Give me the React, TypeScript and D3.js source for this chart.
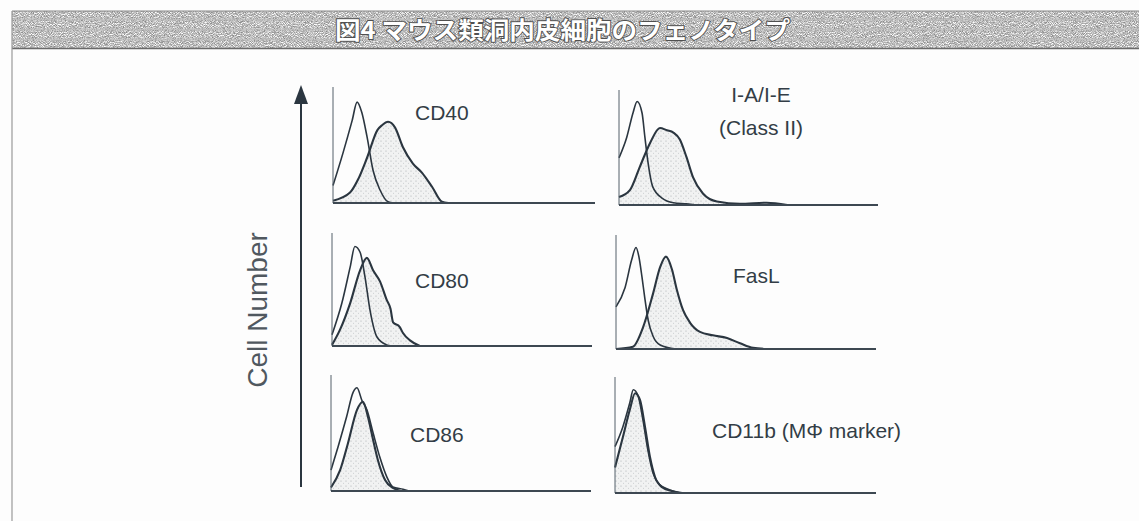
// App.tsx
import React from "react";
import * as d3 from "d3";

// 各パネルの名前（ラベル）
const panelLabels: string[][] = [
  ["CD40"],
  ["I-A/I-E", "(Class II)"],
  ["CD80"],
  ["FasL"],
  ["CD86"],
  ["CD11b (MΦ  marker)"],
];

// ヒストグラムのデータ: [蛍光チャネル(0-100), 細胞数(0-100)]
// control = アイソタイプ（線のみ）, stained = 抗体染色（塗りつぶし）
const cd40Control = [[0, 15], [3.8, 43], [7.3, 71], [9.2, 87], [11, 78], [13, 57], [15.3, 28], [18, 11], [21, 1], [23, 0]];
const cd40Stained = [[0, 2], [6.5, 9], [9.5, 20], [13, 39], [17, 63], [18.7, 67], [21, 70], [23.7, 65], [26.7, 48], [30.5, 34], [34, 26], [37.8, 14], [41.6, 1], [44, 0]];

const iaeControl = [[0, 41], [3, 59], [5.4, 80], [7, 90], [8.9, 80], [10, 59], [11.2, 37], [13, 16], [16.6, 6], [21, 2], [26, 1], [30, 0]];
const iaeStained = [[0, 7], [4.2, 13], [8, 33], [12, 54], [15.8, 67], [18.5, 65], [21, 63], [23.5, 57], [26, 42], [28.6, 24], [32.4, 10], [37.8, 3], [46.7, 1], [57, 2], [65, 0]];

const cd80Control = [[0, 10], [3.8, 38], [7, 70], [8.8, 88], [10.8, 83], [12.7, 61], [14.6, 32], [17.3, 8], [21, 1], [23, 0]];
const cd80Stained = [[0, 1], [3, 14], [7, 38], [10.8, 67], [13.4, 78], [15.8, 67], [18.5, 57], [21, 41], [22.5, 33], [23.5, 21], [26, 17], [27.3, 11.5], [30, 5], [33.8, 0]];

const faslControl = [[0, 37], [3.5, 54], [6, 78], [7.7, 89], [8.8, 81], [10, 63], [11, 46], [12.4, 25], [14.3, 11], [17, 3.5], [23, 0]];
const faslStained = [[0, 0], [6.5, 2], [10.4, 19], [14.3, 49], [17, 72], [19.2, 81], [21.5, 70], [23.4, 52], [25.8, 34], [28.5, 23], [32.3, 15], [37.3, 12], [42.7, 9.6], [47.7, 5], [52.7, 1], [58, 0]];

const cd86Control = [[0, 18], [2.7, 38], [6, 64], [8.5, 85], [10, 89], [11.9, 78], [13.8, 70], [16.2, 50], [18.8, 29], [21.5, 12], [23.8, 3.5], [27.7, 1.5], [30, 0]];
const cd86Stained = [[0, 3], [3.5, 18], [6.5, 41], [10, 70], [12.3, 77], [14.2, 64], [16.2, 44], [18, 27], [20.8, 9.5], [23.8, 2.6], [27, 0]];

const cd11bControl = [[0, 40], [3, 57], [5.7, 78], [7, 89], [8.8, 84], [10.7, 63], [12.6, 37], [14.6, 17], [17.2, 7], [21, 2.6], [25, 0]];
const cd11bStained = [[0, 22], [3, 48], [5.7, 72], [7.7, 86], [9.6, 80], [11.5, 57], [13.4, 31], [15.3, 14], [18, 5], [21.8, 1.7], [25.7, 0]];

const controls = [cd40Control, iaeControl, cd80Control, faslControl, cd86Control, cd11bControl];
const stained = [cd40Stained, iaeStained, cd80Stained, faslStained, cd86Stained, cd11bStained];

const titleText = "図4 マウス類洞内皮細胞のフェノタイプ";
const yAxisTitle = "Cell Number";

// パネル位置（ピクセル）: x0, 基線, 幅, 高さ, ラベル位置
const layout = [
  { x: 333, base: 203, w: 262, h: 116, lx: 415, ly: [120], anchor: "start" },
  { x: 619, base: 205, w: 259, h: 115, lx: 761, ly: [102, 135], anchor: "middle" },
  { x: 332, base: 346, w: 260, h: 113, lx: 415, ly: [288], anchor: "start" },
  { x: 616, base: 349, w: 260, h: 114, lx: 733, ly: [283], anchor: "start" },
  { x: 331, base: 491, w: 260, h: 116, lx: 410, ly: [442], anchor: "start" },
  { x: 615, base: 493, w: 261, h: 116, lx: 712, ly: [438], anchor: "start" },
];

const W = 1139;
const H = 521;
const ink = "#2b3640";
const font = "'Liberation Sans', Arial, sans-serif";

const Panel = ({ i }: { i: number }) => {
  const p = layout[i];
  const x = d3.scaleLinear().domain([0, 100]).range([p.x, p.x + p.w]);
  const y = d3.scaleLinear().domain([0, 100]).range([p.base, p.base - p.h]);

  const line = d3
    .line<number[]>()
    .x((d) => x(d[0]))
    .y((d) => y(d[1]))
    .curve(d3.curveMonotoneX);
  const area = d3
    .area<number[]>()
    .x((d) => x(d[0]))
    .y0(y(0))
    .y1((d) => y(d[1]))
    .curve(d3.curveMonotoneX);

  return (
    <g>
      {/* 塗りつぶしヒストグラム */}
      <path d={area(stained[i]) || ""} fill="url(#stipple)" stroke="none" />
      <path d={line(stained[i]) || ""} fill="none" stroke={ink} strokeWidth={2.1} strokeLinejoin="round" />
      {/* コントロール */}
      <path d={line(controls[i]) || ""} fill="none" stroke={ink} strokeWidth={1.6} strokeLinejoin="round" />
      {/* 軸 */}
      <line x1={x(0)} x2={x(0)} y1={y(0)} y2={y(100)} stroke="#55606a" strokeWidth={1} />
      <line x1={x(0)} x2={x(100)} y1={y(0)} y2={y(0)} stroke="#3d4852" strokeWidth={1.8} />
      {panelLabels[i].map((t, k) => (
        <text
          key={k}
          x={p.lx}
          y={p.ly[k]}
          textAnchor={p.anchor}
          fontFamily={font}
          fontSize={21}
          fill="#333d46"
        >
          {t}
        </text>
      ))}
    </g>
  );
};

export default function App() {
  return (
    <svg
      width={W}
      height={H}
      style={{ position: "absolute", left: 0, top: 0, background: "#fdfdfd" }}
    >
      <defs>
        <pattern id="stipple" width={5} height={5} patternUnits="userSpaceOnUse">
          <rect width={5} height={5} fill="#f1f2f2" />
          <circle cx={1} cy={1} r={0.6} fill="#a9adb0" />
          <circle cx={3.5} cy={3.2} r={0.5} fill="#c3c6c8" />
        </pattern>
        <filter id="darkNoise" x="0" y="0" width="100%" height="100%">
          <feTurbulence type="fractalNoise" baseFrequency="1.1 0.8" numOctaves={2} seed={4} />
          <feColorMatrix
            type="matrix"
            values="0 0 0 0 0.25  0 0 0 0 0.25  0 0 0 0 0.25  3.5 0 0 0 -1.45"
          />
        </filter>
        <filter id="lightNoise" x="0" y="0" width="100%" height="100%">
          <feTurbulence type="fractalNoise" baseFrequency="1.0 0.9" numOctaves={2} seed={9} />
          <feColorMatrix
            type="matrix"
            values="0 0 0 0 1  0 0 0 0 1  0 0 0 0 1  0 3.2 0 0 -1.35"
          />
        </filter>
      </defs>

      {/* タイトル帯 */}
      <rect x={12} y={11} width={W - 12} height={37} fill="#b4b4b4" />
      <rect x={12} y={11} width={W - 12} height={37} filter="url(#darkNoise)" />
      <rect x={12} y={11} width={W - 12} height={37} filter="url(#lightNoise)" />
      <line x1={12} x2={W} y1={11} y2={11} stroke="#8a8a8a" strokeWidth={1} />
      <line x1={12} x2={W} y1={48.5} y2={48.5} stroke="#6a6a6a" strokeWidth={1.5} />
      <line x1={12} x2={12} y1={11} y2={H} stroke="#9a9a9a" strokeWidth={1.2} />
      <text
        x={335}
        y={39}
        textLength={455}
        lengthAdjust="spacingAndGlyphs"
        fontFamily="'Noto Sans CJK JP', sans-serif"
        fontWeight="bold"
        fontSize={24}
        fill="#ffffff"
        stroke="#505050"
        strokeWidth={1.8}
        style={{ paintOrder: "stroke" }}
      >
        {titleText}
      </text>

      {/* 縦軸の矢印とタイトル */}
      <line x1={301} x2={301} y1={487} y2={100} stroke={ink} strokeWidth={2} />
      <path d="M301,85 L294,104 L308,104 Z" fill={ink} />
      <text
        transform="translate(267,310) rotate(-90)"
        textAnchor="middle"
        fontFamily={font}
        fontSize={28}
        fill="#50585f"
      >
        {yAxisTitle}
      </text>

      {layout.map((_, i) => (
        <Panel key={i} i={i} />
      ))}
    </svg>
  );
}
